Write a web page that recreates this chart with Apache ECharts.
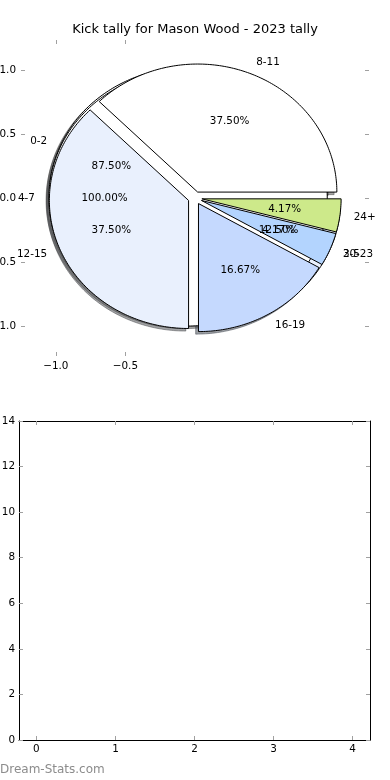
<!DOCTYPE html>
<html><head><meta charset="utf-8">
<script src="https://cdn.jsdelivr.net/npm/echarts@6/dist/echarts.min.js"></script>
<style>html,body{margin:0;padding:0;background:#fff}#c{width:390px;height:780px}</style>
</head><body><div id="c"></div>
<script>
const titleText = 'Kick tally for Mason Wood - 2023 tally';
const watermark = 'Dream-Stats.com';

// three pies drawn on top of each other (counts per distance band)
const pie1Labels = ['0-2', '3-5'];
const pie1Counts = [7, 1];
const pie1Colors = ['#ffffff', '#e9f0fd'];
const pie2Labels = ['4-7'];
const pie2Counts = [1];
const pie2Colors = ['#ffffff'];
const pie3Labels = ['8-11', '12-15', '16-19', '20-23', '24+'];
const pie3Counts = [9, 9, 4, 1, 1];
const pie3Colors = ['#ffffff', '#e9f0fd', '#c5d9fe', '#b3d4fe', '#cde98a'];
const explodeDist = 0.05;

const pieXTicks = [-1.0, -0.5];
const pieYTicks = [-1.0, -0.5, 0.0, 0.5, 1.0];
const barXTicks = [0, 1, 2, 3, 4];
const barYTicks = [0, 2, 4, 6, 8, 10, 12, 14];

const FONT = '"DejaVu Sans", "Liberation Sans", sans-serif';

function buildPie(labels, counts, colors) {
  const total = counts.reduce((a, b) => a + b, 0);
  let acc = 0;
  return labels.map((lab, i) => {
    const frac = counts[i] / total;
    const t1 = acc * 360, t2 = (acc + frac) * 360;
    acc += frac;
    const mid = (t1 + t2) / 2 * Math.PI / 180;
    return {
      label: lab, pct: (frac * 100).toFixed(2) + '%', t1, t2, mid,
      dx: explodeDist * Math.cos(mid), dy: explodeDist * Math.sin(mid),
      color: colors[i]
    };
  });
}
const wedges = [].concat(
  buildPie(pie1Labels, pie1Counts, pie1Colors),
  buildPie(pie2Labels, pie2Counts, pie2Colors),
  buildPie(pie3Labels, pie3Counts, pie3Colors)
);

function wedgePts(api, w, off) {
  const cx = w.dx + off, cy = w.dy + off;
  const full = Math.abs(w.t2 - w.t1 - 360) < 1e-9;
  const pts = [];
  if (!full) pts.push(api.coord([cx, cy]));
  const span = w.t2 - w.t1;
  const n = Math.max(4, Math.ceil(span / 1));
  for (let i = 0; i <= n; i++) {
    const t = (w.t1 + span * i / n) * Math.PI / 180;
    pts.push(api.coord([cx + Math.cos(t), cy + Math.sin(t)]));
  }
  return pts;
}
function shade(hex) {
  const r = parseInt(hex.slice(1, 3), 16), g = parseInt(hex.slice(3, 5), 16), b = parseInt(hex.slice(5, 7), 16);
  return 'rgba(' + Math.round(r * 0.3) + ',' + Math.round(g * 0.3) + ',' + Math.round(b * 0.3) + ',0.5)';
}

const idx = wedges.map((w, i) => [i]);
const fmt = v => (Math.abs(v) < 1e-9 ? 0 : v).toFixed(1).replace('-', '\u2212');
const tickStyle = { color: '#a0a0a0', width: 1 };
const lblStyle = { color: '#000', fontFamily: FONT, fontSize: 10.4 };
const hiddenLine = { show: true, onZero: false, lineStyle: { color: 'rgba(0,0,0,0)', width: 0 } };
const boxLine = { show: true, onZero: false, lineStyle: { color: '#000', width: 1 } };

const chart = echarts.init(document.getElementById('c'), null, { renderer: 'canvas' });
chart.setOption({
  animation: false,
  backgroundColor: '#fff',
  grid: [
    { left: 21, right: 21, top: 40, bottom: 424, containLabel: false, outerBoundsMode: 'none' },
    { left: 19, right: 20, top: 421, bottom: 40, containLabel: false, outerBoundsMode: 'none' }
  ],
  xAxis: [
    { gridIndex: 0, type: 'value', min: -1.25, max: 1.25, position: 'bottom',
      axisLine: hiddenLine, splitLine: { show: false },
      axisTick: { show: true, inside: true, length: 4, lineStyle: tickStyle, customValues: pieXTicks },
      axisLabel: Object.assign({ margin: 5, customValues: pieXTicks, formatter: fmt }, lblStyle) },
    { gridIndex: 0, type: 'value', min: -1.25, max: 1.25, position: 'top',
      axisLine: hiddenLine, splitLine: { show: false },
      axisTick: { show: true, inside: true, length: 4, lineStyle: tickStyle, customValues: pieXTicks },
      axisLabel: { show: false } },
    { gridIndex: 1, type: 'value', min: -0.22, max: 4.22, position: 'bottom',
      axisLine: boxLine, splitLine: { show: false },
      axisTick: { show: true, inside: true, length: 4, lineStyle: tickStyle, customValues: barXTicks },
      axisLabel: Object.assign({ margin: 4, customValues: barXTicks }, lblStyle) },
    { gridIndex: 1, type: 'value', min: -0.22, max: 4.22, position: 'top',
      axisLine: boxLine, splitLine: { show: false },
      axisTick: { show: true, inside: true, length: 4, lineStyle: tickStyle, customValues: barXTicks },
      axisLabel: { show: false } }
  ],
  yAxis: [
    { gridIndex: 0, type: 'value', min: -1.234, max: 1.234, position: 'left',
      axisLine: hiddenLine, splitLine: { show: false },
      axisTick: { show: true, inside: true, length: 4, lineStyle: tickStyle, customValues: pieYTicks },
      axisLabel: Object.assign({ margin: 5, customValues: pieYTicks, formatter: fmt }, lblStyle) },
    { gridIndex: 0, type: 'value', min: -1.234, max: 1.234, position: 'right',
      axisLine: hiddenLine, splitLine: { show: false },
      axisTick: { show: true, inside: true, length: 4, lineStyle: tickStyle, customValues: pieYTicks },
      axisLabel: { show: false } },
    { gridIndex: 1, type: 'value', min: 0, max: 14, position: 'left',
      axisLine: boxLine, splitLine: { show: false },
      axisTick: { show: true, inside: true, length: 4, lineStyle: tickStyle, customValues: barYTicks },
      axisLabel: Object.assign({ margin: 4, customValues: barYTicks }, lblStyle) },
    { gridIndex: 1, type: 'value', min: 0, max: 14, position: 'right',
      axisLine: boxLine, splitLine: { show: false },
      axisTick: { show: true, inside: true, length: 4, lineStyle: tickStyle, customValues: barYTicks },
      axisLabel: { show: false } }
  ],
  graphic: [
    { type: 'text', x: 195, y: 30, style: { text: titleText, align: 'center', verticalAlign: 'middle',
      fill: '#000', font: '13px ' + FONT } },
    { type: 'text', x: 0, y: 770, style: { text: watermark, align: 'left', verticalAlign: 'middle',
      fill: '#8c8c8c', font: '12px ' + FONT } }
  ],
  series: [
    { type: 'custom', xAxisIndex: 0, yAxisIndex: 0, z: 1, silent: true, data: idx,
      renderItem: (p, api) => {
        const w = wedges[api.value(0)];
        const c = shade(w.color);
        return { type: 'polygon', shape: { points: wedgePts(api, w, -0.02) },
          style: { fill: c, stroke: c, lineWidth: 1 } };
      } },
    { type: 'custom', xAxisIndex: 0, yAxisIndex: 0, z: 2, silent: true, data: idx,
      renderItem: (p, api) => {
        const w = wedges[api.value(0)];
        return { type: 'polygon', shape: { points: wedgePts(api, w, 0) },
          style: { fill: w.color, stroke: '#000', lineWidth: 1, lineJoin: 'miter' } };
      } },
    { type: 'custom', xAxisIndex: 0, yAxisIndex: 0, z: 3, silent: true, data: idx,
      renderItem: (p, api) => {
        const w = wedges[api.value(0)];
        const lx = w.dx + 1.1 * Math.cos(w.mid), ly = w.dy + 1.1 * Math.sin(w.mid);
        const px = w.dx + 0.6 * Math.cos(w.mid), py = w.dy + 0.6 * Math.sin(w.mid);
        const a = api.coord([lx, ly]), b = api.coord([px, py]);
        return { type: 'group', children: [
          { type: 'text', x: a[0], y: a[1], style: { text: w.label, align: lx > 0 ? 'left' : 'right',
            verticalAlign: 'middle', fill: '#000', font: '10.4px ' + FONT } },
          { type: 'text', x: b[0], y: b[1], style: { text: w.pct, align: 'center',
            verticalAlign: 'middle', fill: '#000', font: '10.4px ' + FONT } }
        ] };
      } }
  ]
});
</script>
</body></html>
